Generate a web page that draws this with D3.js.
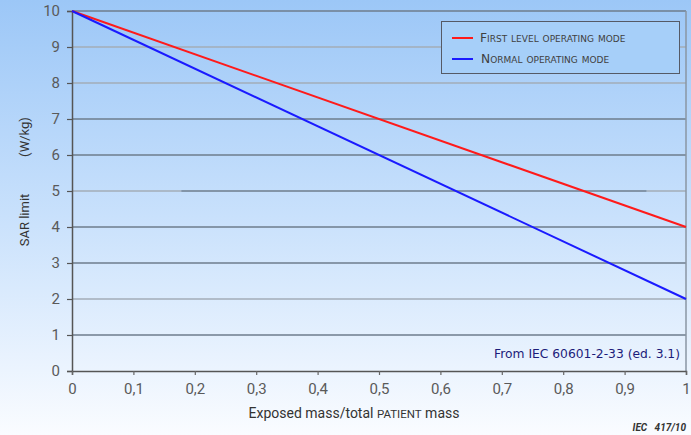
<!DOCTYPE html>
<html><head><meta charset="utf-8">
<script src="https://cdn.jsdelivr.net/npm/d3@7"></script>
<style>body{margin:0;overflow:hidden}svg{display:block}</style>
</head><body>
<script>
const massFraction = [0, 1];
const firstLevel = [10, 4];
const normalMode = [10, 2];
const xTicks = [0,0.1,0.2,0.3,0.4,0.5,0.6,0.7,0.8,0.9,1];
const yTicks = [0,1,2,3,4,5,6,7,8,9,10];
const seriesNames = ["First level operating mode", "Normal operating mode"];
// gridline segments: [value, fromX, toX, dark?]
const gridSegments = [
  [1,0,1,1],[2,0,1,0],[3,0,1,1],[4,0,1,1],
  [5,0,0.178,0],[5,0.178,0.936,1],[5,0.936,1,0],
  [6,0,1,1],[7,0,1,1],[8,0,1,0],[9,0,1,0],[10,0,1,1]
];

const W=691,H=435;
const svg=d3.select("body").append("svg").attr("width",W).attr("height",H);
const defs=svg.append("defs");
const g=defs.append("linearGradient").attr("id","bg").attr("x1",0).attr("y1",0).attr("x2",0).attr("y2",1);
g.append("stop").attr("offset","0%").attr("stop-color","#9cc7f7");
g.append("stop").attr("offset","50%").attr("stop-color","#c9e1fc");
g.append("stop").attr("offset","100%").attr("stop-color","#fafcff");
svg.append("rect").attr("width",W).attr("height",H).attr("fill","url(#bg)");

const x=d3.scaleLinear().domain([0,1]).range([72,686]);
const y=d3.scaleLinear().domain([0,10]).range([371,11]);

// grid
svg.append("g").selectAll("line").data(gridSegments).join("line")
  .attr("x1",d=>x(d[1])).attr("x2",d=>x(d[2]))
  .attr("y1",d=>y(d[0])).attr("y2",d=>y(d[0]))
  .attr("stroke",d=>d[3]?"#6e7c8c":"#a3adb7").attr("stroke-width",1.5);
// right border
svg.append("line").attr("x1",x(1)).attr("x2",x(1)).attr("y1",y(0)).attr("y2",y(10))
  .attr("stroke","#8a96a3").attr("stroke-width",1.5);

const tickFont="'Roboto',sans-serif";
// y axis
const yAxis=svg.append("g").attr("transform",`translate(${x(0)},0)`)
  .call(d3.axisLeft(y).tickValues(yTicks).tickSize(5).tickPadding(7).tickFormat(d3.format("d")));
yAxis.select(".domain").attr("stroke","#555").attr("stroke-width",1.5);
yAxis.selectAll(".tick line").attr("stroke","#555").attr("stroke-width",1.2);
yAxis.selectAll("text").attr("fill","#5a5a5a").attr("font-family",tickFont).attr("font-size",15);

// x axis
const fmt=d=>d===0||d===1?String(d):String(d).replace(".",",");
const xAxis=svg.append("g").attr("transform",`translate(0,${y(0)})`)
  .call(d3.axisBottom(x).tickValues(xTicks).tickSize(4).tickPadding(8).tickFormat(fmt));
xAxis.select(".domain").attr("stroke","#555").attr("stroke-width",1.5);
xAxis.selectAll(".tick line").attr("stroke","#666").attr("stroke-width",1.2);
xAxis.selectAll("text").attr("fill","#5a5a5a").attr("font-family",tickFont).attr("font-size",15);

// lines
const line=d3.line().x((d,i)=>x(massFraction[i])).y(d=>y(d));
svg.append("path").datum(firstLevel).attr("d",line).attr("fill","none").attr("stroke","#ff1a1a").attr("stroke-width",2);
svg.append("path").datum(normalMode).attr("d",line).attr("fill","none").attr("stroke","#1a1aff").attr("stroke-width",2);

// legend
const lg=svg.append("g");
lg.append("rect").attr("x",441.5).attr("y",21.5).attr("width",238).attr("height",52)
  .attr("fill","#a6cff9").attr("stroke","#555a66").attr("stroke-width",1);
const colors=["#ff1a1a","#1a1aff"];
seriesNames.forEach((n,i)=>{
  const yy=38+i*21;
  lg.append("line").attr("x1",452).attr("x2",473).attr("y1",yy).attr("y2",yy).attr("stroke",colors[i]).attr("stroke-width",2);
  lg.append("text").attr("x",480+i).attr("y",yy+4).text(n)
    .attr("font-family","'DejaVu Sans',sans-serif").attr("font-size",12.3).attr("font-variant","small-caps")
    .attr("fill","#404040");
});

// axis titles
const yTitle=svg.append("g").attr("font-family",tickFont).attr("font-size",13).attr("fill","#333").attr("text-anchor","middle");
yTitle.append("text").attr("transform","translate(29,220) rotate(-90)").text("SAR limit");
yTitle.append("text").attr("transform","translate(29,137) rotate(-90)").text("(W/kg)");
svg.append("text").attr("x",354).attr("y",418).attr("text-anchor","middle")
  .attr("font-family",tickFont).attr("font-size",14).attr("fill","#333")
  .html('Exposed mass/total <tspan font-size="11.5">PATIENT</tspan> mass');

svg.append("text").attr("x",680).attr("y",358).attr("text-anchor","end")
  .attr("font-family","'DejaVu Sans',sans-serif").attr("font-size",12.3).attr("fill","#1c1c7a")
  .text("From IEC 60601-2-33 (ed. 3.1)");
svg.append("text").attr("x",686).attr("y",431).attr("text-anchor","end")
  .attr("font-family",tickFont).attr("font-size",10).attr("font-style","italic").attr("font-weight","bold").attr("fill","#333")
  .attr("xml:space","preserve").text("IEC   417/10");
</script>
</body></html>
